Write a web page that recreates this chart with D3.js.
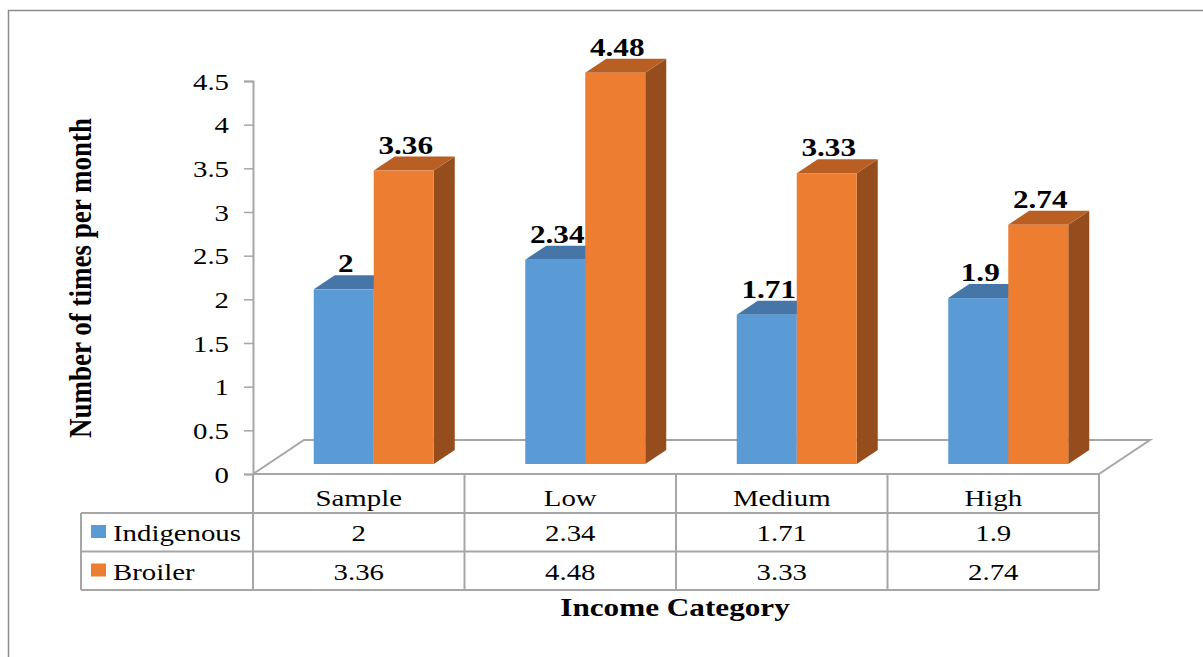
<!DOCTYPE html>
<html>
<head>
<meta charset="utf-8">
<script src="https://cdn.jsdelivr.net/npm/d3@7"></script>
<style>
    body { margin: 0; background: #fff; }
    text { font-family: "Liberation Serif", "Times New Roman", serif; fill: #000; }
</style>
</head>
<body>
<script>
// chart data
var categories = ['Sample', 'Low', 'Medium', 'High'];
var seriesNames = ['Indigenous', 'Broiler'];
var indigenous = [2, 2.34, 1.71, 1.9];
var broiler = [3.36, 4.48, 3.33, 2.74];
var yTicks = [0, 0.5, 1, 1.5, 2, 2.5, 3, 3.5, 4, 4.5];

window.onload = function () {
    var w = 1203,
        h = 657;
    var sx = 1.2; // text in the picture is stretched sideways

    var svg = d3.select('body')
        .append('svg')
        .attr('width', w)
        .attr('height', h);

    // outer frame
    svg.append('rect')
        .attr('x', 8.5).attr('y', 10.5)
        .attr('width', 1210).attr('height', 700)
        .style('fill', 'none')
        .style('stroke', '#8c8c8c')
        .style('stroke-width', 1.5);

    var x = d3.scaleBand()
        .domain(categories)
        .range([253, 1099]);

    var inner = d3.scaleBand()
        .domain(seriesNames)
        .range([0, x.bandwidth()])
        .paddingInner(0)
        .paddingOuter(0.7625);

    var y = d3.scaleLinear()
        .domain([0, 4.5])
        .range([474, 81]);

    var colors = {
        Indigenous: { front: '#5B9BD5', top: '#4676A8', side: '#3F6D9C' },
        Broiler: { front: '#ED7D31', top: '#B95F24', side: '#954D1D' }
    };

    // depth of the floor and where the bars sit in it
    var floorDx = 51, floorDy = -34;
    var f0 = 10 / 34, f1 = 24 / 34;
    var ox = floorDx * f0, oy = floorDy * f0;
    var bdx = floorDx * (f1 - f0), bdy = floorDy * (f1 - f0);

    var gray = '#A6A6A6';

    // floor
    var x0 = x.range()[0], x1 = x.range()[1], y0 = y(0);
    svg.append('path')
        .attr('d', 'M' + x0 + ',' + y0 + 'L' + (x0 + floorDx) + ',' + (y0 + floorDy) +
            'L' + (x1 + floorDx) + ',' + (y0 + floorDy) + 'L' + x1 + ',' + y0)
        .style('fill', '#fff')
        .style('stroke', gray)
        .style('stroke-width', 2);

    // y axis
    var yAxis = d3.axisLeft(y)
        .tickValues(yTicks)
        .tickSize(9)
        .tickFormat(d3.format('~g'));

    var axis = svg.append('g')
        .attr('class', 'axis')
        .attr('transform', 'translate(' + x0 + ',0)')
        .call(yAxis);
    axis.select('.domain').style('stroke', gray).style('stroke-width', 2);
    axis.selectAll('.tick line').style('stroke', gray).style('stroke-width', 1.5);
    axis.selectAll('.tick text')
        .attr('x', null).attr('dy', null)
        .style('font-size', '24px')
        .style('font-family', '"Liberation Serif", serif')
        .attr('text-anchor', 'end')
        .attr('transform', 'translate(-24,8) scale(' + sx + ',1)');

    // bars
    var bars = [];
    categories.forEach(function (c, i) {
        bars.push({ cat: c, series: 'Indigenous', value: indigenous[i] });
        bars.push({ cat: c, series: 'Broiler', value: broiler[i] });
    });

    var barG = svg.selectAll('.bar')
        .data(bars)
        .enter()
        .append('g')
        .attr('class', 'bar');

    function geom(d) {
        var bx = x(d.cat) + inner(d.series) + ox;
        var bw = inner.bandwidth();
        var top = y(d.value) + oy;
        var bot = y(0) + oy;
        return { bx: bx, bw: bw, top: top, bot: bot };
    }

    barG.append('path') // side
        .attr('d', function (d) {
            var g = geom(d);
            return 'M' + (g.bx + g.bw) + ',' + g.top + 'L' + (g.bx + g.bw + bdx) + ',' + (g.top + bdy) +
                'L' + (g.bx + g.bw + bdx) + ',' + (g.bot + bdy) + 'L' + (g.bx + g.bw) + ',' + g.bot + 'Z';
        })
        .style('fill', function (d) { return colors[d.series].side; });

    barG.append('path') // top
        .attr('d', function (d) {
            var g = geom(d);
            return 'M' + g.bx + ',' + g.top + 'L' + (g.bx + g.bw) + ',' + g.top +
                'L' + (g.bx + g.bw + bdx) + ',' + (g.top + bdy) + 'L' + (g.bx + bdx) + ',' + (g.top + bdy) + 'Z';
        })
        .style('fill', function (d) { return colors[d.series].top; });

    barG.append('rect') // front
        .attr('x', function (d) { return geom(d).bx; })
        .attr('y', function (d) { return geom(d).top; })
        .attr('width', function (d) { return geom(d).bw; })
        .attr('height', function (d) { var g = geom(d); return g.bot - g.top; })
        .style('fill', function (d) { return colors[d.series].front; });

    // value labels
    svg.selectAll('.labels')
        .data(bars)
        .enter()
        .append('text')
        .attr('class', 'labels')
        .attr('text-anchor', 'middle')
        .style('font-size', '26px')
        .style('font-weight', 'bold')
        .attr('transform', function (d) {
            var g = geom(d);
            return 'translate(' + (g.bx + g.bw / 2 + 2) + ',' + (g.top + bdy - 3) + ') scale(' + sx + ',1)';
        })
        .text(function (d) { return d.value; });

    // data table
    var rowTop = [474, 513, 551.5, 590];
    var legendLeft = 81;
    var tbl = svg.append('g').attr('class', 'table')
        .style('stroke', gray).style('stroke-width', 2).style('fill', 'none');

    // horizontal lines
    tbl.append('line').attr('x1', x0).attr('x2', x1).attr('y1', rowTop[0]).attr('y2', rowTop[0]);
    [1, 2, 3].forEach(function (r) {
        tbl.append('line').attr('x1', legendLeft).attr('x2', x1).attr('y1', rowTop[r]).attr('y2', rowTop[r]);
    });
    // vertical lines
    tbl.append('line').attr('x1', legendLeft).attr('x2', legendLeft).attr('y1', rowTop[1]).attr('y2', rowTop[3]);
    categories.concat(['end']).forEach(function (c, i) {
        var xx = i < categories.length ? x(c) : x1;
        tbl.append('line').attr('x1', xx).attr('x2', xx).attr('y1', rowTop[0]).attr('y2', rowTop[3]);
    });

    // header row
    svg.selectAll('.catLabel')
        .data(categories)
        .enter()
        .append('text')
        .attr('class', 'catLabel')
        .attr('text-anchor', 'middle')
        .style('font-size', '24px')
        .attr('transform', function (d) {
            return 'translate(' + (x(d) + x.bandwidth() / 2) + ',' + 506 + ') scale(' + sx + ',1)';
        })
        .text(function (d) { return d; });

    var rows = [indigenous, broiler];
    rows.forEach(function (vals, r) {
        var base = rowTop[r + 1] + 28;
        svg.append('rect')
            .attr('x', 91).attr('y', rowTop[r + 1] + 12)
            .attr('width', 15).attr('height', 13)
            .style('fill', colors[seriesNames[r]].front);
        svg.append('text')
            .style('font-size', '24px')
            .attr('transform', 'translate(113,' + base + ') scale(' + sx + ',1)')
            .text(seriesNames[r]);
        svg.selectAll('.val' + r)
            .data(vals)
            .enter()
            .append('text')
            .attr('class', 'val' + r)
            .attr('text-anchor', 'middle')
            .style('font-size', '24px')
            .attr('transform', function (d, i) {
                return 'translate(' + (x(categories[i]) + x.bandwidth() / 2) + ',' + base + ') scale(' + sx + ',1)';
            })
            .text(function (d) { return d; });
    });

    // axis titles
    svg.append('text')
        .attr('text-anchor', 'middle')
        .style('font-size', '26px')
        .style('font-weight', 'bold')
        .attr('transform', 'translate(675,616) scale(' + sx + ',1)')
        .text('Income Category');

    svg.append('text')
        .attr('text-anchor', 'middle')
        .style('font-size', '27px')
        .style('font-weight', 'bold')
        .attr('transform', 'translate(91,278) rotate(-90) scale(1,' + sx + ')')
        .text('Number of times per month');
};
</script>
</body>
</html>
